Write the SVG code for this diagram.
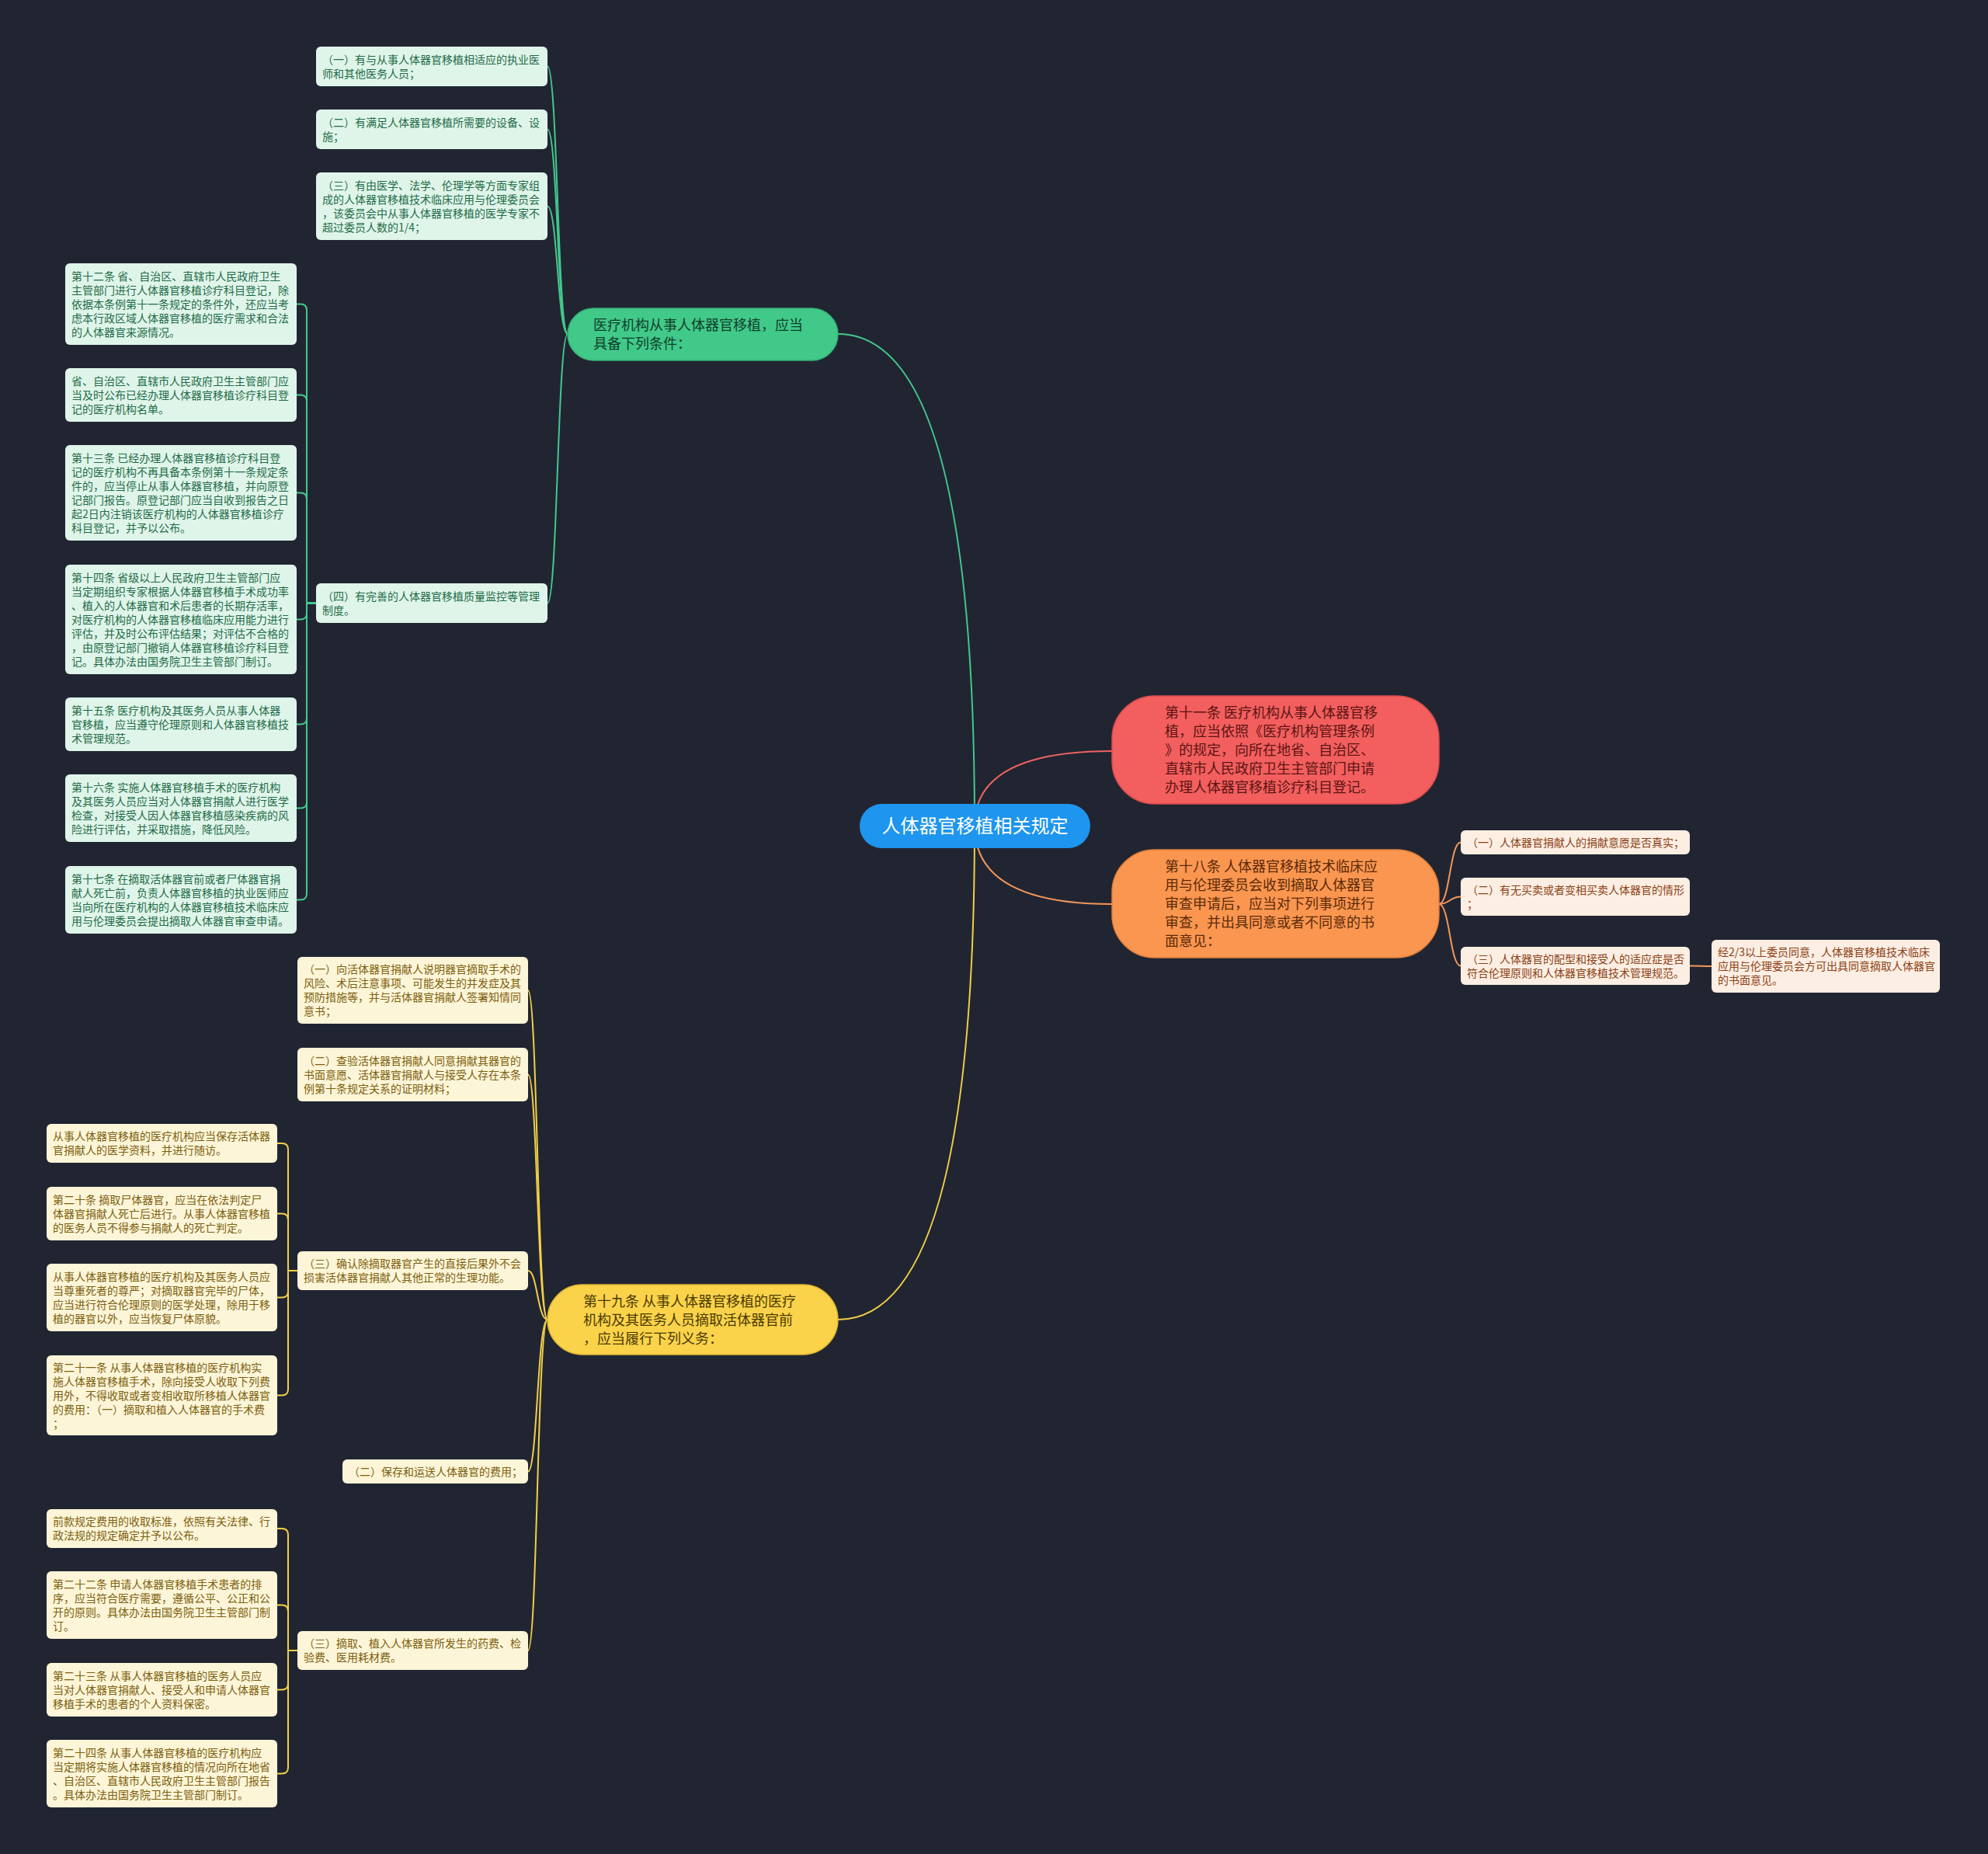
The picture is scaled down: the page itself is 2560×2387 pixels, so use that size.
<svg xmlns="http://www.w3.org/2000/svg" width="2560" height="2387" viewBox="0 0 2560 2387">
<style>
text{font-family:"Noto Sans CJK SC","Noto Sans",sans-serif;}
.t14{font-size:14px;}
.t18{font-size:18px;}
.lg{fill:#dff5ea;}
.tg{fill:#1f6b47;}
.lo{fill:#fdeee3;}
.to{fill:#8b4216;}
.ly{fill:#fdf5d8;}
.ty{fill:#7c600f;}
.cg{stroke:#43c98c;fill:none;stroke-width:2;}
.cr{stroke:#ee6462;fill:none;stroke-width:2;}
.co{stroke:#f3975a;fill:none;stroke-width:2;}
.cy{stroke:#f2cf48;fill:none;stroke-width:2;}
</style>
<rect x="0" y="0" width="2560" height="2387" fill="#212532"/>
<g id="connectors">
<path class="cg" d="M1255,1063 Q1255,430 1079,430"/>
<path class="cr" d="M1255,1063 Q1255,967 1432,967"/>
<path class="co" d="M1255,1063 Q1255,1164 1432,1164"/>
<path class="cy" d="M1255,1063 Q1255,1699 1079,1699"/>
<path class="cg" d="M731,430 C718,430 718,85.5 705,85.5"/>
<path class="cg" d="M731,430 C718,430 718,166.5 705,166.5"/>
<path class="cg" d="M731,430 C718,430 718,265.5 705,265.5"/>
<path class="cg" d="M731,430 C718,430 718,776.5 705,776.5"/>
<path class="cg" d="M408,776.5 L395,776.5 L395,399.5 Q395,391.5 387,391.5 L382,391.5"/>
<path class="cg" d="M408,776.5 L395,776.5 L395,516.5 Q395,508.5 387,508.5 L382,508.5"/>
<path class="cg" d="M408,776.5 L395,776.5 L395,642.5 Q395,634.5 387,634.5 L382,634.5"/>
<path class="cg" d="M408,776.5 L395,776.5 L395,789.5 Q395,797.5 387,797.5 L382,797.5"/>
<path class="cg" d="M408,776.5 L395,776.5 L395,924.5 Q395,932.5 387,932.5 L382,932.5"/>
<path class="cg" d="M408,776.5 L395,776.5 L395,1032.5 Q395,1040.5 387,1040.5 L382,1040.5"/>
<path class="cg" d="M408,776.5 L395,776.5 L395,1150.5 Q395,1158.5 387,1158.5 L382,1158.5"/>
<path class="co" d="M1853,1164 C1867,1164 1867,1084.5 1881,1084.5"/>
<path class="co" d="M1853,1164 C1867,1164 1867,1154.5 1881,1154.5"/>
<path class="co" d="M1853,1164 C1867,1164 1867,1243.5 1881,1243.5"/>
<path class="co" d="M2176,1243.5 C2190,1243.5 2190,1244 2204,1244"/>
<path class="cy" d="M705,1699 C692,1699 692,1275 680,1275"/>
<path class="cy" d="M705,1699 C692,1699 692,1383.5 680,1383.5"/>
<path class="cy" d="M705,1699 C692,1699 692,1636 680,1636"/>
<path class="cy" d="M705,1699 C692,1699 692,1894.5 680,1894.5"/>
<path class="cy" d="M705,1699 C692,1699 692,2125 680,2125"/>
<path class="cy" d="M383,1636 L371,1636 L371,1480 Q371,1472 363,1472 L357,1472"/>
<path class="cy" d="M383,1636 L371,1636 L371,1570.5 Q371,1562.5 363,1562.5 L357,1562.5"/>
<path class="cy" d="M383,1636 L371,1636 L371,1662.5 Q371,1670.5 363,1670.5 L357,1670.5"/>
<path class="cy" d="M383,1636 L371,1636 L371,1788.5 Q371,1796.5 363,1796.5 L357,1796.5"/>
<path class="cy" d="M383,2125 L371,2125 L371,1976 Q371,1968 363,1968 L357,1968"/>
<path class="cy" d="M383,2125 L371,2125 L371,2074.5 Q371,2066.5 363,2066.5 L357,2066.5"/>
<path class="cy" d="M383,2125 L371,2125 L371,2167.5 Q371,2175.5 363,2175.5 L357,2175.5"/>
<path class="cy" d="M383,2125 L371,2125 L371,2275.5 Q371,2283.5 363,2283.5 L357,2283.5"/>
</g>

<g id="root">
<rect x="1107" y="1035" width="297" height="57" rx="28.5" fill="#1e95ee"/>
<text x="1255.5" y="1072" text-anchor="middle" font-size="24" fill="#ffffff">人体器官移植相关规定</text>
</g>

<g id="n-green">
<rect x="731" y="397" width="348" height="67" rx="33.5" fill="#41c98a" stroke="#35b077" stroke-width="1.5"/>
<text class="t18" fill="#0f3f28"><tspan x="764" y="425">医疗机构从事人体器官移植，应当</tspan><tspan x="764" dy="24">具备下列条件：</tspan></text>
</g>

<g id="n-red">
<rect x="1432" y="896" width="421" height="139" rx="55" fill="#f25f5e" stroke="#d94b4b" stroke-width="1.5"/>
<text class="t18" fill="#5c1414"><tspan x="1500" y="924">第十一条 医疗机构从事人体器官移</tspan><tspan x="1500" dy="24">植，应当依照《医疗机构管理条例</tspan><tspan x="1500" dy="24">》的规定，向所在地省、自治区、</tspan><tspan x="1500" dy="24">直辖市人民政府卫生主管部门申请</tspan><tspan x="1500" dy="24">办理人体器官移植诊疗科目登记。</tspan></text>
</g>

<g id="n-orange">
<rect x="1432" y="1094" width="421" height="139" rx="55" fill="#fa9650" stroke="#e07f3c" stroke-width="1.5"/>
<text class="t18" fill="#5a2a08"><tspan x="1500" y="1122">第十八条 人体器官移植技术临床应</tspan><tspan x="1500" dy="24">用与伦理委员会收到摘取人体器官</tspan><tspan x="1500" dy="24">审查申请后，应当对下列事项进行</tspan><tspan x="1500" dy="24">审查，并出具同意或者不同意的书</tspan><tspan x="1500" dy="24">面意见：</tspan></text>
</g>

<g id="n-yellow">
<rect x="705" y="1654" width="374" height="90" rx="45" fill="#fbd34a" stroke="#e0b832" stroke-width="1.5"/>
<text class="t18" fill="#4a3a05"><tspan x="751" y="1681.5">第十九条 从事人体器官移植的医疗</tspan><tspan x="751" dy="24">机构及其医务人员摘取活体器官前</tspan><tspan x="751" dy="24">，应当履行下列义务：</tspan></text>
</g>

<g id="g1"><rect class="lg" x="407" y="60" width="298" height="51" rx="6"/>
<text class="t14 tg"><tspan x="415" y="81.5">（一）有与从事人体器官移植相适应的执业医</tspan><tspan x="415" dy="18">师和其他医务人员；</tspan></text></g>
<g id="g2"><rect class="lg" x="407" y="141" width="298" height="51" rx="6"/>
<text class="t14 tg"><tspan x="415" y="162.5">（二）有满足人体器官移植所需要的设备、设</tspan><tspan x="415" dy="18">施；</tspan></text></g>
<g id="g3"><rect class="lg" x="407" y="222" width="298" height="87" rx="6"/>
<text class="t14 tg"><tspan x="415" y="243.5">（三）有由医学、法学、伦理学等方面专家组</tspan><tspan x="415" dy="18">成的人体器官移植技术临床应用与伦理委员会</tspan><tspan x="415" dy="18">，该委员会中从事人体器官移植的医学专家不</tspan><tspan x="415" dy="18">超过委员人数的1/4；</tspan></text></g>
<g id="g4"><rect class="lg" x="407" y="751" width="298" height="51" rx="6"/>
<text class="t14 tg"><tspan x="415" y="772.5">（四）有完善的人体器官移植质量监控等管理</tspan><tspan x="415" dy="18">制度。</tspan></text></g>

<g id="g5"><rect class="lg" x="84" y="339" width="298" height="105" rx="6"/>
<text class="t14 tg"><tspan x="92" y="360.5">第十二条 省、自治区、直辖市人民政府卫生</tspan><tspan x="92" dy="18">主管部门进行人体器官移植诊疗科目登记，除</tspan><tspan x="92" dy="18">依据本条例第十一条规定的条件外，还应当考</tspan><tspan x="92" dy="18">虑本行政区域人体器官移植的医疗需求和合法</tspan><tspan x="92" dy="18">的人体器官来源情况。</tspan></text></g>
<g id="g6"><rect class="lg" x="84" y="474" width="298" height="69" rx="6"/>
<text class="t14 tg"><tspan x="92" y="495.5">省、自治区、直辖市人民政府卫生主管部门应</tspan><tspan x="92" dy="18">当及时公布已经办理人体器官移植诊疗科目登</tspan><tspan x="92" dy="18">记的医疗机构名单。</tspan></text></g>
<g id="g7"><rect class="lg" x="84" y="573" width="298" height="123" rx="6"/>
<text class="t14 tg"><tspan x="92" y="594.5">第十三条 已经办理人体器官移植诊疗科目登</tspan><tspan x="92" dy="18">记的医疗机构不再具备本条例第十一条规定条</tspan><tspan x="92" dy="18">件的，应当停止从事人体器官移植，并向原登</tspan><tspan x="92" dy="18">记部门报告。原登记部门应当自收到报告之日</tspan><tspan x="92" dy="18">起2日内注销该医疗机构的人体器官移植诊疗</tspan><tspan x="92" dy="18">科目登记，并予以公布。</tspan></text></g>
<g id="g8"><rect class="lg" x="84" y="727" width="298" height="141" rx="6"/>
<text class="t14 tg"><tspan x="92" y="748.5">第十四条 省级以上人民政府卫生主管部门应</tspan><tspan x="92" dy="18">当定期组织专家根据人体器官移植手术成功率</tspan><tspan x="92" dy="18">、植入的人体器官和术后患者的长期存活率，</tspan><tspan x="92" dy="18">对医疗机构的人体器官移植临床应用能力进行</tspan><tspan x="92" dy="18">评估，并及时公布评估结果；对评估不合格的</tspan><tspan x="92" dy="18">，由原登记部门撤销人体器官移植诊疗科目登</tspan><tspan x="92" dy="18">记。具体办法由国务院卫生主管部门制订。</tspan></text></g>
<g id="g9"><rect class="lg" x="84" y="898" width="298" height="69" rx="6"/>
<text class="t14 tg"><tspan x="92" y="919.5">第十五条 医疗机构及其医务人员从事人体器</tspan><tspan x="92" dy="18">官移植，应当遵守伦理原则和人体器官移植技</tspan><tspan x="92" dy="18">术管理规范。</tspan></text></g>
<g id="g10"><rect class="lg" x="84" y="997" width="298" height="87" rx="6"/>
<text class="t14 tg"><tspan x="92" y="1018.5">第十六条 实施人体器官移植手术的医疗机构</tspan><tspan x="92" dy="18">及其医务人员应当对人体器官捐献人进行医学</tspan><tspan x="92" dy="18">检查，对接受人因人体器官移植感染疾病的风</tspan><tspan x="92" dy="18">险进行评估，并采取措施，降低风险。</tspan></text></g>
<g id="g11"><rect class="lg" x="84" y="1115" width="298" height="87" rx="6"/>
<text class="t14 tg"><tspan x="92" y="1136.5">第十七条 在摘取活体器官前或者尸体器官捐</tspan><tspan x="92" dy="18">献人死亡前，负责人体器官移植的执业医师应</tspan><tspan x="92" dy="18">当向所在医疗机构的人体器官移植技术临床应</tspan><tspan x="92" dy="18">用与伦理委员会提出摘取人体器官审查申请。</tspan></text></g>

<g id="o1"><rect class="lo" x="1881" y="1069" width="295" height="31" rx="6"/>
<text class="t14 to"><tspan x="1889" y="1089.5">（一）人体器官捐献人的捐献意愿是否真实；</tspan></text></g>
<g id="o2"><rect class="lo" x="1881" y="1130" width="295" height="49" rx="6"/>
<text class="t14 to"><tspan x="1889" y="1150.5">（二）有无买卖或者变相买卖人体器官的情形</tspan><tspan x="1889" dy="18">；</tspan></text></g>
<g id="o3"><rect class="lo" x="1881" y="1219" width="295" height="49" rx="6"/>
<text class="t14 to"><tspan x="1889" y="1239.5">（三）人体器官的配型和接受人的适应症是否</tspan><tspan x="1889" dy="18">符合伦理原则和人体器官移植技术管理规范。</tspan></text></g>
<g id="o4"><rect class="lo" x="2204" y="1210" width="294" height="68" rx="6"/>
<text class="t14 to"><tspan x="2212" y="1231">经2/3以上委员同意，人体器官移植技术临床</tspan><tspan x="2212" dy="18">应用与伦理委员会方可出具同意摘取人体器官</tspan><tspan x="2212" dy="18">的书面意见。</tspan></text></g>

<g id="y1"><rect class="ly" x="383" y="1232" width="297" height="86" rx="6"/>
<text class="t14 ty"><tspan x="391" y="1253">（一）向活体器官捐献人说明器官摘取手术的</tspan><tspan x="391" dy="18">风险、术后注意事项、可能发生的并发症及其</tspan><tspan x="391" dy="18">预防措施等，并与活体器官捐献人签署知情同</tspan><tspan x="391" dy="18">意书；</tspan></text></g>
<g id="y2"><rect class="ly" x="383" y="1349" width="297" height="69" rx="6"/>
<text class="t14 ty"><tspan x="391" y="1370.5">（二）查验活体器官捐献人同意捐献其器官的</tspan><tspan x="391" dy="18">书面意愿、活体器官捐献人与接受人存在本条</tspan><tspan x="391" dy="18">例第十条规定关系的证明材料；</tspan></text></g>
<g id="y3"><rect class="ly" x="383" y="1611" width="297" height="50" rx="6"/>
<text class="t14 ty"><tspan x="391" y="1632">（三）确认除摘取器官产生的直接后果外不会</tspan><tspan x="391" dy="18">损害活体器官捐献人其他正常的生理功能。</tspan></text></g>
<g id="y4"><rect class="ly" x="441" y="1879" width="239" height="31" rx="6"/>
<text class="t14 ty"><tspan x="449" y="1899.5">（二）保存和运送人体器官的费用；</tspan></text></g>
<g id="y5"><rect class="ly" x="383" y="2100" width="297" height="50" rx="6"/>
<text class="t14 ty"><tspan x="391" y="2121">（三）摘取、植入人体器官所发生的药费、检</tspan><tspan x="391" dy="18">验费、医用耗材费。</tspan></text></g>

<g id="yA"><rect class="ly" x="60" y="1447" width="297" height="50" rx="6"/>
<text class="t14 ty"><tspan x="68" y="1468">从事人体器官移植的医疗机构应当保存活体器</tspan><tspan x="68" dy="18">官捐献人的医学资料，并进行随访。</tspan></text></g>
<g id="yB"><rect class="ly" x="60" y="1528" width="297" height="69" rx="6"/>
<text class="t14 ty"><tspan x="68" y="1549.5">第二十条 摘取尸体器官，应当在依法判定尸</tspan><tspan x="68" dy="18">体器官捐献人死亡后进行。从事人体器官移植</tspan><tspan x="68" dy="18">的医务人员不得参与捐献人的死亡判定。</tspan></text></g>
<g id="yC"><rect class="ly" x="60" y="1627" width="297" height="87" rx="6"/>
<text class="t14 ty"><tspan x="68" y="1648.5">从事人体器官移植的医疗机构及其医务人员应</tspan><tspan x="68" dy="18">当尊重死者的尊严；对摘取器官完毕的尸体，</tspan><tspan x="68" dy="18">应当进行符合伦理原则的医学处理，除用于移</tspan><tspan x="68" dy="18">植的器官以外，应当恢复尸体原貌。</tspan></text></g>
<g id="yD"><rect class="ly" x="60" y="1745" width="297" height="103" rx="6"/>
<text class="t14 ty"><tspan x="68" y="1765.5">第二十一条 从事人体器官移植的医疗机构实</tspan><tspan x="68" dy="18">施人体器官移植手术，除向接受人收取下列费</tspan><tspan x="68" dy="18">用外，不得收取或者变相收取所移植人体器官</tspan><tspan x="68" dy="18">的费用：（一）摘取和植入人体器官的手术费</tspan><tspan x="68" dy="18">；</tspan></text></g>
<g id="yE"><rect class="ly" x="60" y="1943" width="297" height="50" rx="6"/>
<text class="t14 ty"><tspan x="68" y="1964">前款规定费用的收取标准，依照有关法律、行</tspan><tspan x="68" dy="18">政法规的规定确定并予以公布。</tspan></text></g>
<g id="yF"><rect class="ly" x="60" y="2023" width="297" height="87" rx="6"/>
<text class="t14 ty"><tspan x="68" y="2044.5">第二十二条 申请人体器官移植手术患者的排</tspan><tspan x="68" dy="18">序，应当符合医疗需要，遵循公平、公正和公</tspan><tspan x="68" dy="18">开的原则。具体办法由国务院卫生主管部门制</tspan><tspan x="68" dy="18">订。</tspan></text></g>
<g id="yG"><rect class="ly" x="60" y="2141" width="297" height="69" rx="6"/>
<text class="t14 ty"><tspan x="68" y="2162.5">第二十三条 从事人体器官移植的医务人员应</tspan><tspan x="68" dy="18">当对人体器官捐献人、接受人和申请人体器官</tspan><tspan x="68" dy="18">移植手术的患者的个人资料保密。</tspan></text></g>
<g id="yH"><rect class="ly" x="60" y="2240" width="297" height="87" rx="6"/>
<text class="t14 ty"><tspan x="68" y="2261.5">第二十四条 从事人体器官移植的医疗机构应</tspan><tspan x="68" dy="18">当定期将实施人体器官移植的情况向所在地省</tspan><tspan x="68" dy="18">、自治区、直辖市人民政府卫生主管部门报告</tspan><tspan x="68" dy="18">。具体办法由国务院卫生主管部门制订。</tspan></text></g>
</svg>
